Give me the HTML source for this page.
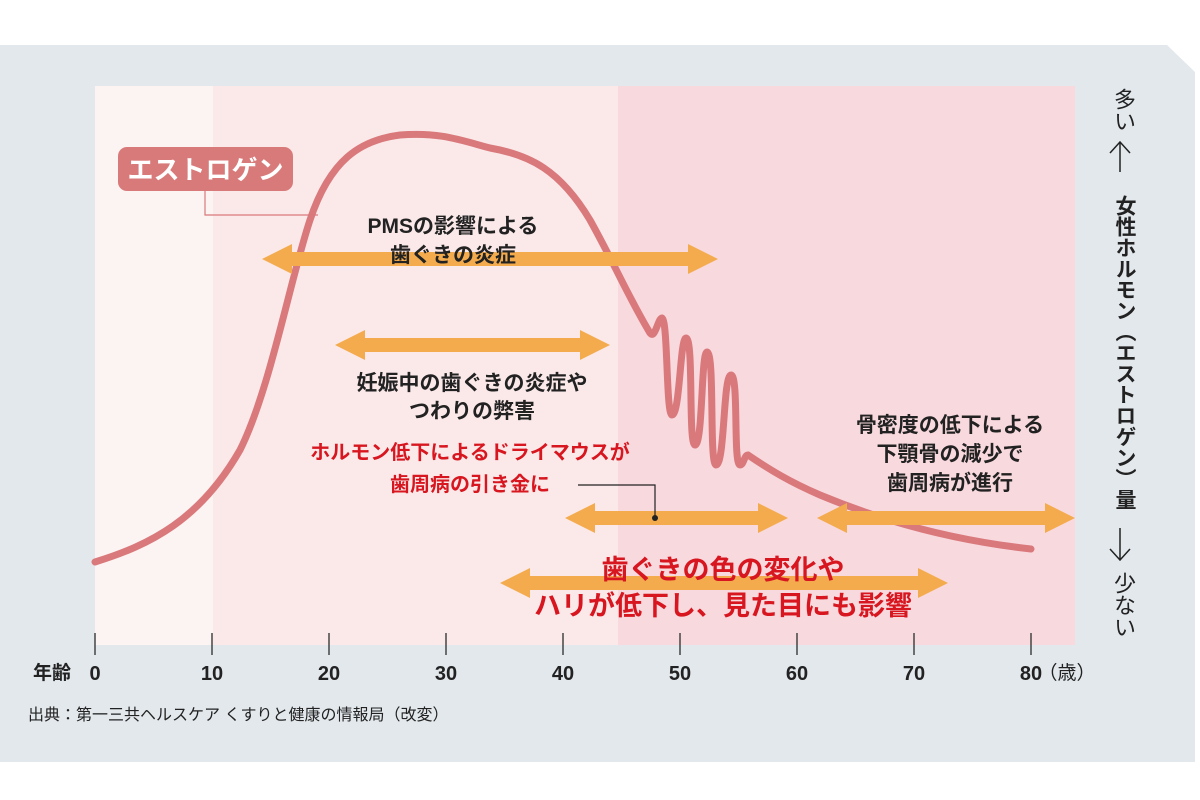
<!DOCTYPE html>
<html><head><meta charset="utf-8"><style>
body{margin:0;width:1200px;height:800px;background:#fff;overflow:hidden;font-family:"Liberation Sans","Noto Sans CJK JP",sans-serif}
svg text{font-family:"Liberation Sans","Noto Sans CJK JP",sans-serif}
.v{position:absolute;writing-mode:vertical-rl;color:#222;font-size:22px;left:1107px}
</style></head><body>
<svg width="1200" height="800" style="position:absolute;left:0;top:0">
<polygon points="0,45 1167,45 1195,72 1195,762 0,762" fill="#e3e8ec"/>
<rect x="95" y="86" width="118" height="559" fill="#fcf3f3"/>
<rect x="213" y="86" width="405" height="559" fill="#fbe9ea"/>
<rect x="618" y="86" width="457" height="559" fill="#f8d9de"/>
<g stroke="#444" stroke-width="1.5">
<line x1="95" y1="633" x2="95" y2="655"/><line x1="212" y1="633" x2="212" y2="655"/><line x1="329" y1="633" x2="329" y2="655"/><line x1="446" y1="633" x2="446" y2="655"/><line x1="563" y1="633" x2="563" y2="655"/><line x1="680" y1="633" x2="680" y2="655"/><line x1="797" y1="633" x2="797" y2="655"/><line x1="914" y1="633" x2="914" y2="655"/><line x1="1031" y1="633" x2="1031" y2="655"/>
</g>
<g font-size="20" font-weight="bold" fill="#222" text-anchor="middle">
<text x="95" y="680">0</text><text x="212" y="680">10</text><text x="329" y="680">20</text><text x="446" y="680">30</text><text x="563" y="680">40</text><text x="680" y="680">50</text><text x="797" y="680">60</text><text x="914" y="680">70</text><text x="1031" y="680">80</text>
<text x="1067" y="679" font-weight="normal" font-size="19">（歳）</text>
<text x="52" y="679" font-size="19">年齢</text>
</g>
<text x="28" y="720" font-size="16" fill="#222">出典：第一三共ヘルスケア くすりと健康の情報局（改変）</text>
<path d="M95,562 C150,545 200,520 240,450 C270,390 290,280 310,220 C330,160 360,140 400,135 C440,132 460,140 490,148 C530,155 560,170 590,220 C615,265 630,300 650,333 C655,340 658,318 662,318 C668,320 666,415 672,415 C680,415 680,338 686,338 C694,338 688,445 695,445 C703,445 701,352 707,352 C715,352 709,465 716,465 C725,465 723,375 731,375 C739,375 733,465 740,465 C744,465 744,455 748,455 C770,470 790,482 820,495 C880,520 950,540 1031,549" fill="none" stroke="#d9797b" stroke-width="7" stroke-linecap="round"/>
<polyline points="205,191 205,215 318,215" fill="none" stroke="#d9797b" stroke-width="1.2"/>
<rect x="118" y="147" width="175" height="44" rx="9" fill="#d97a7a"/>
<text x="205.5" y="179" font-size="26" font-weight="bold" fill="#fff" text-anchor="middle">エストロゲン</text>
<g fill="#f3ab4e">
<polygon points="262,259 292,244 292,252 688,252 688,244 718,259 688,274 688,266 292,266 292,274"/>
<polygon points="335,345 365,330 365,338 580,338 580,330 610,345 580,360 580,352 365,352 365,360"/>
<polygon points="565,518 595,503 595,511 758,511 758,503 788,518 758,533 758,525 595,525 595,533"/>
<polygon points="817,518 847,503 847,511 1045,511 1045,503 1075,518 1045,533 1045,525 847,525 847,533"/>
<polygon points="500,583 530,568 530,576 918,576 918,568 948,583 918,598 918,590 530,590 530,598"/>
</g>
<g font-size="21" font-weight="bold" fill="#222" text-anchor="middle">
<text x="453" y="233">PMSの影響による</text><text x="453" y="262">歯ぐきの炎症</text>
<text x="472" y="390">妊娠中の歯ぐきの炎症や</text><text x="472" y="418">つわりの弊害</text>
<text x="950" y="432">骨密度の低下による</text><text x="950" y="461">下顎骨の減少で</text><text x="950" y="490">歯周病が進行</text>
</g>
<g font-size="20" font-weight="bold" fill="#d7161f" text-anchor="middle">
<text x="470" y="459">ホルモン低下によるドライマウスが</text><text x="470" y="491">歯周病の引き金に</text>
</g>
<polyline points="578,485 655,485 655,516" fill="none" stroke="#222" stroke-width="1.2"/>
<circle cx="655" cy="518" r="3" fill="#222"/>
<g font-size="27" font-weight="bold" fill="#d7161f" text-anchor="middle">
<text x="723" y="579">歯ぐきの色の変化や</text><text x="723" y="615">ハリが低下し、見た目にも影響</text>
</g>
<line x1="1120" y1="142" x2="1120" y2="172" stroke="#222" stroke-width="1.5"/>
<polyline points="1110,153 1120,142 1130,153" fill="none" stroke="#222" stroke-width="1.5"/>
<line x1="1120" y1="528" x2="1120" y2="560" stroke="#222" stroke-width="1.5"/>
<polyline points="1110,549 1120,560 1130,549" fill="none" stroke="#222" stroke-width="1.5"/>
</svg>
<div class="v" style="top:88px">多い</div>
<div class="v" style="top:195px;font-weight:bold;font-size:21px;left:1109px">女性ホルモン（エストロゲン）量</div>
<div class="v" style="top:572px">少ない</div>
</body></html>
